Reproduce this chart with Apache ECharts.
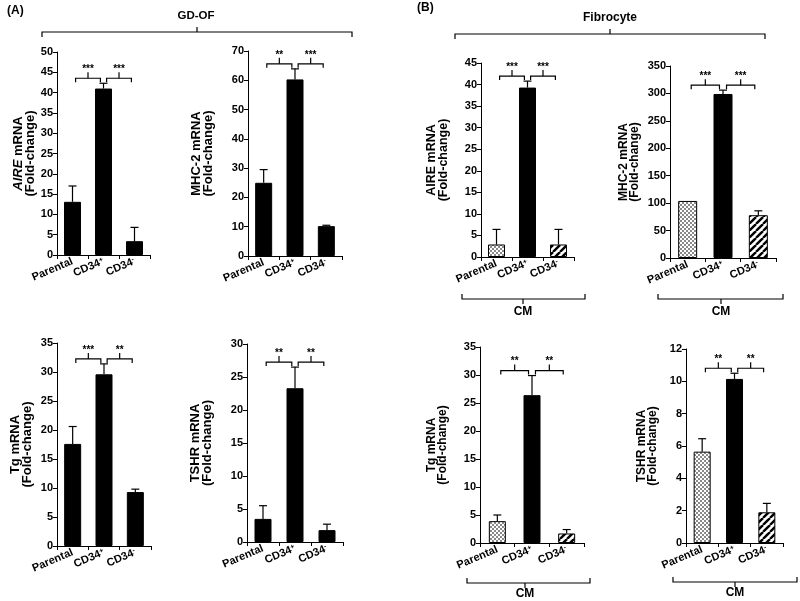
<!DOCTYPE html>
<html><head><meta charset="utf-8">
<script src="https://cdn.jsdelivr.net/npm/echarts@6/dist/echarts.min.js"></script>
<style>html,body{margin:0;padding:0;background:#fff}#c{width:800px;height:601px}</style>
</head><body><div id="c"></div>
<script>
// ---------- DATA ----------
const categories = ['Parental', 'CD34+', 'CD34-'];

// (A) GD-OF
const gdofAireMean = [13.1, 41.0, 3.4];
const gdofAireErr  = [3.9, 1.3, 3.4];
const gdofAireSig  = ['***', '***'];
const gdofAireTicks = [0, 50, 5];

const gdofMhcMean = [25.0, 60.3, 10.2];
const gdofMhcErr  = [4.5, 3.6, 0.3];
const gdofMhcSig  = ['**', '***'];
const gdofMhcTicks = [0, 70, 10];

const gdofTgMean = [17.6, 29.6, 9.3];
const gdofTgErr  = [3.0, 1.8, 0.5];
const gdofTgSig  = ['***', '**'];
const gdofTgTicks = [0, 35, 5];

const gdofTshrMean = [3.5, 23.3, 1.8];
const gdofTshrErr  = [2.0, 3.2, 0.9];
const gdofTshrSig  = ['**', '**'];
const gdofTshrTicks = [0, 30, 5];

// (B) Fibrocyte CM
const fibAireMean = [2.9, 39.3, 2.9];
const fibAireErr  = [3.5, 1.5, 3.5];
const fibAireSig  = ['***', '***'];
const fibAireTicks = [0, 45, 5];

const fibMhcMean = [104, 299, 78];
const fibMhcErr  = [0, 7, 8];
const fibMhcSig  = ['***', '***'];
const fibMhcTicks = [0, 350, 50];

const fibTgMean = [3.9, 26.4, 1.7];
const fibTgErr  = [1.1, 3.5, 0.7];
const fibTgSig  = ['**', '**'];
const fibTgTicks = [0, 35, 5];

const fibTshrMean = [5.65, 10.15, 1.9];
const fibTshrErr  = [0.8, 0.35, 0.55];
const fibTshrSig  = ['**', '**'];
const fibTshrTicks = [0, 12, 2];

// ---------- STYLE / LAYOUT ----------
const FONT = '"Liberation Sans", Arial, sans-serif';

function checkerPattern() {
  const c = document.createElement('canvas'); c.width = c.height = 4;
  const g = c.getContext('2d');
  g.fillStyle = '#fff'; g.fillRect(0, 0, 4, 4);
  g.fillStyle = '#8a8a8a';
  g.fillRect(0, 0, 2, 2); g.fillRect(2, 2, 2, 2);
  return c;
}
function stripePattern() {
  const s = 7;
  const c = document.createElement('canvas'); c.width = c.height = s;
  const g = c.getContext('2d');
  g.fillStyle = '#fff'; g.fillRect(0, 0, s, s);
  g.strokeStyle = '#000'; g.lineWidth = 2.4;
  for (const k of [-s, 0, s]) { g.beginPath(); g.moveTo(k, s); g.lineTo(k + s, 0); g.stroke(); }
  return c;
}
const checker = { image: checkerPattern(), repeat: 'repeat' };
const stripes = { image: stripePattern(), repeat: 'repeat' };

const panels = [
  { name: '{i|AIRE} mRNA\n(Fold-change)', mean: gdofAireMean, err: gdofAireErr, sig: gdofAireSig, ticks: gdofAireTicks, fib: false,
    grid: { left: 57, top: 52, width: 93, height: 203 }, gap: 19, bw: 17, nfs: 13 },
  { name: 'MHC-2 mRNA\n(Fold-change)', mean: gdofMhcMean, err: gdofMhcErr, sig: gdofMhcSig, ticks: gdofMhcTicks, fib: false,
    grid: { left: 248, top: 51, width: 94, height: 205 }, gap: 34, bw: 17, nfs: 13 },
  { name: 'Tg mRNA\n(Fold-change)', mean: gdofTgMean, err: gdofTgErr, sig: gdofTgSig, ticks: gdofTgTicks, fib: false,
    grid: { left: 57, top: 343, width: 94, height: 203 }, gap: 24, bw: 17, nfs: 13 },
  { name: 'TSHR mRNA\n(Fold-change)', mean: gdofTshrMean, err: gdofTshrErr, sig: gdofTshrSig, ticks: gdofTshrTicks, fib: false,
    grid: { left: 247, top: 344, width: 96, height: 198 }, gap: 34, bw: 17, nfs: 13 },
  { name: 'AIRE mRNA\n(Fold-change)', mean: fibAireMean, err: fibAireErr, sig: fibAireSig, ticks: fibAireTicks, fib: true,
    grid: { left: 481, top: 63, width: 93, height: 194 }, gap: 32, bw: 17, nfs: 12.5 },
  { name: 'MHC-2 mRNA\n(Fold-change)', mean: fibMhcMean, err: fibMhcErr, sig: fibMhcSig, ticks: fibMhcTicks, fib: true,
    grid: { left: 670, top: 66, width: 106, height: 192 }, gap: 30, bw: 19, nfs: 12 },
  { name: 'Tg mRNA\n(Fold-change)', mean: fibTgMean, err: fibTgErr, sig: fibTgSig, ticks: fibTgTicks, fib: true,
    grid: { left: 480, top: 347, width: 104, height: 196 }, gap: 32, bw: 17, nfs: 12 },
  { name: 'TSHR mRNA\n(Fold-change)', mean: fibTshrMean, err: fibTshrErr, sig: fibTshrSig, ticks: fibTshrTicks, fib: true,
    grid: { left: 686, top: 349, width: 97, height: 194 }, gap: 28, bw: 17, nfs: 12 }
];

const grid = [], xAxis = [], yAxis = [], series = [];
panels.forEach((p, i) => {
  grid.push(Object.assign({ outerBoundsMode: 'none', containLabel: false }, p.grid));
  xAxis.push({
    type: 'category', gridIndex: i, data: categories,
    axisLine: { lineStyle: { color: '#000', width: 1 } },
    axisTick: { show: true, length: 4, lineStyle: { color: '#000', width: 1 } },
    axisLabel: {
      interval: 0, rotate: 23, margin: 6, color: '#000', fontSize: 11, fontWeight: 'bold', fontFamily: FONT,
      formatter: v => v.indexOf('CD34') === 0 ? 'CD34{s|' + v.slice(4) + '}' : v,
      rich: { s: { fontSize: 7, fontWeight: 'bold', fontFamily: FONT, color: '#000', verticalAlign: 'top' } }
    },
    splitLine: { show: false }
  });
  yAxis.push({
    type: 'value', gridIndex: i, min: p.ticks[0], max: p.ticks[1], interval: p.ticks[2],
    name: p.name, nameLocation: 'middle', nameGap: p.gap,
    nameTextStyle: { color: '#000', fontSize: p.nfs, fontWeight: 'bold', fontFamily: FONT, lineHeight: p.nfs - 1,
      rich: { i: { fontStyle: 'italic', fontSize: p.nfs, fontWeight: 'bold', fontFamily: FONT, color: '#000' } } },
    axisLine: { show: true, lineStyle: { color: '#000', width: 1 } },
    axisTick: { show: true, length: 4, lineStyle: { color: '#000', width: 1 } },
    axisLabel: { color: '#000', fontSize: 11, fontWeight: 'bold', fontFamily: FONT, margin: 4 },
    splitLine: { show: false }
  });
  const fills = p.fib ? [checker, '#000', stripes] : ['#000', '#000', '#000'];
  series.push({
    type: 'bar', xAxisIndex: i, yAxisIndex: i, barWidth: p.bw, silent: true,
    data: p.mean.map((m, j) => ({ value: m, itemStyle: { color: fills[j], borderColor: '#000', borderWidth: 1 } }))
  });
  series.push({
    type: 'custom', xAxisIndex: i, yAxisIndex: i, silent: true, z: 5,
    data: p.mean.map((m, j) => [j, m, p.err[j]]), encode: { x: 0, y: 1 },
    renderItem(params, api) {
      const j = api.value(0), m = api.value(1), e = api.value(2);
      if (!e) return null;
      const b = api.coord([j, m]), t = api.coord([j, m + e]);
      const cap = 4, st = { stroke: '#000', lineWidth: 1.2 };
      return { type: 'group', children: [
        { type: 'line', shape: { x1: b[0], y1: b[1], x2: t[0], y2: t[1] }, style: st },
        { type: 'line', shape: { x1: t[0] - cap, y1: t[1], x2: t[0] + cap, y2: t[1] }, style: st }
      ] };
    }
  });
  series.push({
    type: 'custom', xAxisIndex: i, yAxisIndex: i, silent: true, z: 6,
    data: p.sig.map((s, k) => [k, k + 1]), encode: { x: [0, 1] },
    renderItem(params, api) {
      const a = api.value(0), b = api.value(1);
      let topPx = Infinity;
      p.mean.forEach((m, j) => { topPx = Math.min(topPx, api.coord([j, m + p.err[j]])[1]); });
      const y = topPx - 5;
      const w = api.size([1, 0])[0];
      const x1 = api.coord([a, 0])[0] + 0.1 * w, x2 = api.coord([b, 0])[0] - 0.1 * w;
      const mid = (x1 + x2) / 2;
      const st = { stroke: '#000', lineWidth: 1.2, fill: null };
      return { type: 'group', children: [
        { type: 'polyline', shape: { points: [[x1, y + 4], [x1, y], [x2, y], [x2, y + 4]] }, style: st },
        { type: 'line', shape: { x1: mid, y1: y, x2: mid, y2: y - 6 }, style: st },
        { type: 'text', x: mid, y: y - 4, style: { text: p.sig[params.dataIndex], fill: '#000',
          font: 'bold 10px ' + FONT, textAlign: 'center', textVerticalAlign: 'bottom' } }
      ] };
    }
  });
});

// header / footer annotations
const lineSt = { stroke: '#000', lineWidth: 1.2, fill: null };
function topBrace(x1, x2, y, mid) {
  return [
    { type: 'polyline', shape: { points: [[x1, y + 5], [x1, y], [x2, y], [x2, y + 5]] }, style: lineSt },
    { type: 'line', shape: { x1: mid, y1: y, x2: mid, y2: y - 5 }, style: lineSt }
  ];
}
function bottomBrace(x1, x2, y, mid) {
  return [
    { type: 'polyline', shape: { points: [[x1, y - 5], [x1, y], [x2, y], [x2, y - 5]] }, style: lineSt },
    { type: 'line', shape: { x1: mid, y1: y, x2: mid, y2: y + 5 }, style: lineSt }
  ];
}
function label(txt, x, y, align, size) {
  return { type: 'text', x: x, y: y, style: { text: txt, fill: '#000', font: 'bold ' + (size || 12) + 'px ' + FONT,
    textAlign: align || 'center', textVerticalAlign: 'middle' } };
}
const graphic = [].concat(
  [label('(A)', 7, 11, 'left'), label('(B)', 417, 8, 'left'),
   label('GD-OF', 196, 16, 'center', 11.5), label('Fibrocyte', 610, 18)],
  topBrace(42, 352, 32, 197),
  topBrace(455, 765, 34, 610),
  bottomBrace(462, 585, 299, 523), label('CM', 523, 312),
  bottomBrace(658, 783, 299, 721), label('CM', 721, 312),
  bottomBrace(467, 590, 583, 525), label('CM', 525, 594),
  bottomBrace(673, 797, 582, 735), label('CM', 735, 593)
);

const chart = echarts.init(document.getElementById('c'), null, { renderer: 'canvas' });
chart.setOption({
  backgroundColor: '#fff',
  animation: false,
  grid, xAxis, yAxis, series, graphic
});
</script>
</body></html>
